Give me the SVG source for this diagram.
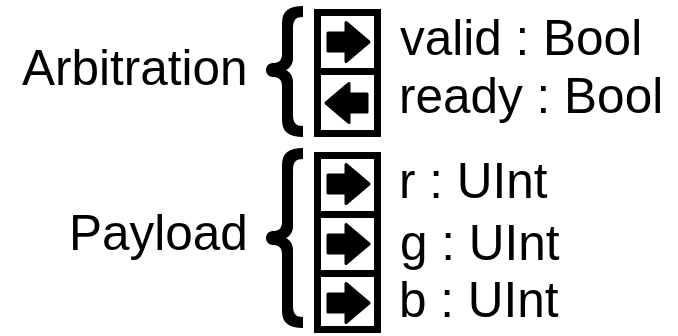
<svg xmlns="http://www.w3.org/2000/svg" width="678" height="336" viewBox="0 0 678 336">
<style>
.lbl{font-family:"Liberation Sans",Arial,sans-serif;font-size:49.5px;fill:#000}
.cell{fill:#fff;stroke:#000;stroke-width:7}
.brace{fill:#000}
.arr{fill:#000;stroke:#000;stroke-width:3;stroke-linejoin:round}
</style>
<defs>
<path id="arrow" class="arr" d="M -20 -9 L -2 -9 L -2 -19.5 L 21 0 L -2 19.5 L -2 9 L -20 9 Z"/>
</defs>
<rect width="678" height="336" fill="#fff"/>
<g id="arbitration">
<text class="lbl" x="22" y="85">Arbitration</text>
<path class="brace" d="M 303 6 L 303 17 C 296 17 293 20 293 28 L 293 58 C 293 64 290 68 286 70 C 290 72 293 76 293 82 L 293 115 C 293 123 296 126 303 126 L 303 137 C 289 137 282 132 282 120 L 282 86 C 282 79 278 77 273 77 C 269 77 266 74 266 70 C 266 66 269 63 273 63 C 278 63 282 61 282 54 L 282 23 C 282 11 289 6 303 6 Z"/>
</g>
<g id="valid">
<rect class="cell" x="317.5" y="12.5" width="60" height="59"/>
<use href="#arrow" transform="translate(348,42)"/>
<text class="lbl" x="400" y="55">valid : Bool</text>
</g>
<g id="ready">
<rect class="cell" x="317.5" y="71.5" width="60" height="62"/>
<use href="#arrow" transform="translate(347,103) scale(-1,1)"/>
<text class="lbl" x="399" y="113">ready : Bool</text>
</g>
<g id="payload">
<text class="lbl" x="69" y="250">Payload</text>
<path class="brace" d="M 303 148 L 303 159 C 296 159 293 162 293 170 L 293 226 C 293 232 290 236 286 238 C 290 240 293 244 293 250 L 293 306 C 293 314 296 317 303 317 L 303 328 C 289 328 282 323 282 311 L 282 254 C 282 247 278 245 273 245 C 269 245 266 242 266 238 C 266 234 269 231 273 231 C 278 231 282 229 282 222 L 282 165 C 282 153 289 148 303 148 Z"/>
</g>
<g id="r">
<rect class="cell" x="317.5" y="155.5" width="60" height="59"/>
<use href="#arrow" transform="translate(348,184)"/>
<text class="lbl" x="399" y="198">r : UInt</text>
</g>
<g id="g">
<rect class="cell" x="317.5" y="214.5" width="60" height="59"/>
<use href="#arrow" transform="translate(348,244)"/>
<text class="lbl" x="400" y="260">g : UInt</text>
</g>
<g id="b">
<rect class="cell" x="317.5" y="273.5" width="60" height="56"/>
<use href="#arrow" transform="translate(348,303)"/>
<text class="lbl" x="399" y="317">b : UInt</text>
</g>
<g id="connectors"/>
</svg>
